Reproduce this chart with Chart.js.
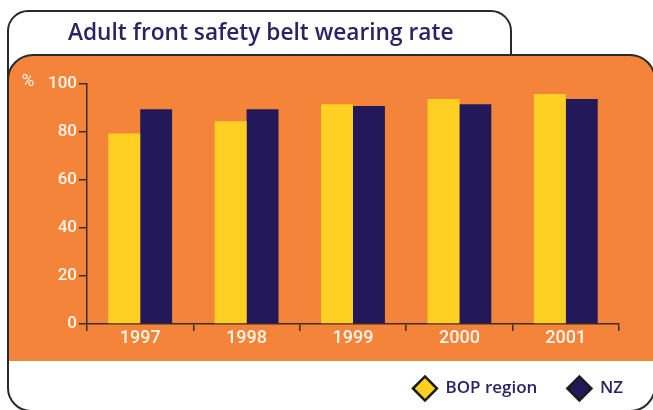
<!DOCTYPE html>
<html>
<head>
<meta charset="utf-8">
<script src="https://cdn.jsdelivr.net/npm/chart.js@4.4.1/dist/chart.umd.min.js"></script>
<style>
  html, body { margin: 0; padding: 0; background: #fff; }
  #wrap { width: 653px; height: 410px; }
</style>
</head>
<body>
<div id="wrap"><canvas id="myChart" width="653" height="410"></canvas></div>
<script>
// data
var chartTitle = "Adult front safety belt wearing rate";
var unitLabel = "%";
var years = ["1997", "1998", "1999", "2000", "2001"];
var bopRegion = [79.4, 84.5, 91.6, 93.7, 95.8];
var nz = [89.5, 89.5, 90.8, 91.6, 93.7];
var yTicks = [0, 20, 40, 60, 80, 100];

var ORANGE = "#f5843b";
var YELLOW = "#ffd021";
var NAVY = "#23185a";
var TEXT_NAVY = "#2b2366";
var LINE = "#2a2a2a";
var AXIS = "#3b2f2a";
var TICK_TEXT = "#fff4ea";

// the white frame, the title tab and the orange panel
var framePlugin = {
    id: "frame",
    beforeDraw: function(chart){
        var ctx = chart.ctx;
        ctx.save();
        ctx.fillStyle = "#ffffff";
        ctx.fillRect(0, 0, chart.width, chart.height);

        // orange panel
        ctx.beginPath();
        ctx.moveTo(8, 361);
        ctx.lineTo(8, 80);
        ctx.arcTo(8, 55, 33, 55, 25);
        ctx.lineTo(630, 55);
        ctx.arcTo(655, 55, 655, 80, 25);
        ctx.lineTo(655, 361);
        ctx.closePath();
        ctx.fillStyle = ORANGE;
        ctx.fill();

        ctx.strokeStyle = LINE;
        ctx.lineWidth = 2;

        // panel top edge
        ctx.beginPath();
        ctx.moveTo(8, 80);
        ctx.arcTo(8, 55, 33, 55, 25);
        ctx.lineTo(630, 55);
        ctx.arcTo(655, 55, 655, 80, 25);
        ctx.stroke();

        // title tab + outer left edge
        ctx.beginPath();
        ctx.moveTo(511, 55);
        ctx.lineTo(511, 31);
        ctx.arcTo(511, 11, 491, 11, 20);
        ctx.lineTo(28, 11);
        ctx.arcTo(8, 11, 8, 31, 20);
        ctx.lineTo(8, 388);
        ctx.arcTo(8, 411, 31, 411, 23);
        ctx.stroke();

        // outer bottom right corner
        ctx.beginPath();
        ctx.moveTo(655, 385);
        ctx.arcTo(655, 411, 630, 411, 25);
        ctx.stroke();

        // title in the tab
        ctx.fillStyle = TEXT_NAVY;
        ctx.font = "600 22.7px 'Open Sans'";
        ctx.textAlign = "left";
        ctx.textBaseline = "alphabetic";
        ctx.fillText(chartTitle, 68, 39.5);
        ctx.restore();
    },
    afterDraw: function(chart){
        var ctx = chart.ctx;
        var y = chart.scales.y;
        ctx.save();
        ctx.fillStyle = TICK_TEXT;
        ctx.font = "17px Roboto";
        ctx.textAlign = "center";
        ctx.textBaseline = "middle";
        ctx.fillText(unitLabel, 28, y.getPixelForValue(100) - 2);
        ctx.restore();
    }
};

var myChart = document.getElementById("myChart").getContext("2d");
var chart = new Chart(myChart, {
    type: "bar",
    data: {
        labels: years,
        datasets: [
            {
                label: "BOP region",
                data: bopRegion,
                backgroundColor: YELLOW,
                borderWidth: 0,
                categoryPercentage: 0.6,
                barPercentage: 1.0
            },
            {
                label: "NZ",
                data: nz,
                backgroundColor: NAVY,
                borderWidth: 0,
                categoryPercentage: 0.6,
                barPercentage: 1.0
            }
        ]
    },
    options: {
        responsive: false,
        animation: false,
        layout: {
            padding: { left: 0, right: 0, top: 84, bottom: 3 }
        },
        plugins: {
            tooltip: { enabled: false },
            title: { display: false },
            legend: {
                position: "bottom",
                align: "end",
                labels: {
                    usePointStyle: true,
                    pointStyleWidth: 24,
                    color: TEXT_NAVY,
                    padding: 30,
                    font: { family: "'Open Sans'", size: 17, weight: "600" },
                    generateLabels: function(chart){
                        return chart.data.datasets.map(function(ds, i){
                            return {
                                text: ds.label,
                                fillStyle: ds.backgroundColor,
                                strokeStyle: "#1b1b1b",
                                lineWidth: 2.5,
                                pointStyle: "rectRot",
                                fontColor: TEXT_NAVY,
                                hidden: false,
                                datasetIndex: i
                            };
                        });
                    }
                }
            }
        },
        scales: {
            x: {
                afterFit: function(s){ s.height = 26; },
                grid: {
                    display: true,
                    drawOnChartArea: false,
                    drawTicks: true,
                    tickLength: 7,
                    color: AXIS,
                    lineWidth: 1.5,
                    offset: true
                },
                border: { display: true, color: AXIS, width: 1.5 },
                ticks: {
                    color: TICK_TEXT,
                    padding: -2,
                    font: { family: "Roboto", size: 18, weight: "500", lineHeight: 1.0 }
                }
            },
            y: {
                min: 0,
                max: 100,
                afterFit: function(s){ s.width = 87; },
                afterBuildTicks: function(s){
                    s.ticks = yTicks.map(function(v){ return { value: v }; });
                },
                grid: {
                    display: true,
                    drawOnChartArea: false,
                    drawTicks: true,
                    tickLength: 8,
                    color: AXIS,
                    lineWidth: 1.5
                },
                border: { display: true, color: AXIS, width: 1.5 },
                ticks: {
                    color: TICK_TEXT,
                    padding: 2,
                    font: { family: "Roboto", size: 17, weight: "500" }
                }
            },
            y2: {
                position: "right",
                display: true,
                afterFit: function(s){ s.width = 34; },
                grid: { display: false },
                border: { display: false },
                ticks: { display: false }
            }
        }
    },
    plugins: [framePlugin]
});
</script>
</body>
</html>
